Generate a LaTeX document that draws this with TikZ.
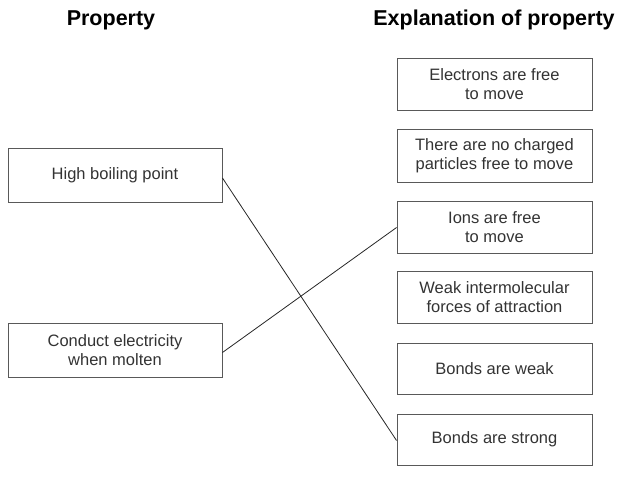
\documentclass[tikz,border=0pt]{standalone}
\usepackage{fontspec}
\setmainfont{Liberation Sans}
\begin{document}
\begin{tikzpicture}[x=1pt,y=-1pt,
  box/.style={draw=black!65,line width=0.9pt,inner sep=0pt,align=center,
    text=black!80,font=\fontsize{16.5}{19}\selectfont},
  lbox/.style={box,minimum width=214pt,minimum height=54pt},
  rbox/.style={box,minimum width=195pt,minimum height=52pt},
  head/.style={font=\fontsize{21.5}{24}\selectfont\bfseries,text=black,anchor=base,inner sep=0pt},
  link/.style={draw=black!85,line width=0.8pt}]
\useasboundingbox (0,0) rectangle (632,498);
\node[head] (h1) at (111,25) {Property};
\node[head] (h2) at (494,25) {Explanation of property};
\node[lbox] (A) at (115,175) {High boiling point};
\node[lbox] (B) at (115,350.5) {Conduct electricity\\when molten};
\node[rbox] (R1) at (494.5,84) {Electrons are free\\to move};
\node[rbox,minimum height=53pt] (R2) at (494.5,155.5) {There are no charged\\particles free to move};
\node[rbox] (R3) at (494.5,227.5) {Ions are free\\to move};
\node[rbox] (R4) at (494.5,297.5) {Weak intermolecular\\forces of attraction};
\node[rbox,minimum height=51pt] (R5) at (494.5,368.5) {Bonds are weak};
\node[rbox,minimum height=51pt] (R6) at (494.5,439.5) {Bonds are strong};
\draw[link] ([yshift=-3pt]A.east) -- ([yshift=-1pt]R6.west);
\draw[link] ([yshift=-2pt]B.east) -- (R3.west);
\end{tikzpicture}
\end{document}
